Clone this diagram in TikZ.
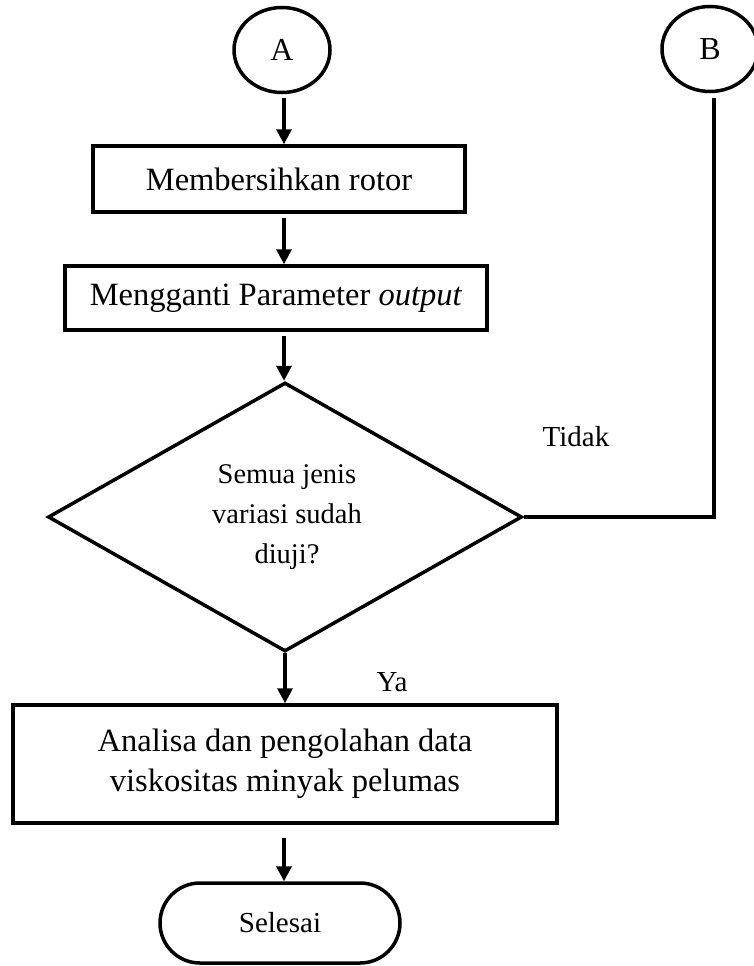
\documentclass[tikz,border=0pt]{standalone}
\usepackage{fontspec}
\setmainfont{Liberation Serif}
\usetikzlibrary{arrows.meta,shapes.geometric}

\begin{document}
\begin{tikzpicture}[x=1pt,y=-1pt,
  outline/.style={draw=black,line width=3.5pt},
  procbox/.style={outline,rectangle,inner sep=0pt,align=center,
    font=\fontsize{32.5}{40}\selectfont},
  connector/.style={outline,ellipse,inner sep=0pt,minimum width=96pt,minimum height=85pt,
    font=\fontsize{32}{38}\selectfont},
  decision/.style={outline,diamond,inner sep=0pt,align=center},
  terminal/.style={outline,rectangle,rounded corners=40pt,inner sep=0pt,
    minimum width=240pt,minimum height=80pt,font=\fontsize{29}{34}\selectfont},
  label/.style={font=\fontsize{29}{34}\selectfont,inner sep=0pt},
  flow/.style={line width=3.5pt,-{Triangle[length=15pt,width=15pt]}},
  plain/.style={line width=3.5pt}]

\useasboundingbox (0,0) rectangle (753,966);

% off-page connectors
\node[connector] (A) at (282,50) {A};
\node[connector] (B) at (710,49) {B};

% process steps
\node[procbox,minimum width=372pt,minimum height=66pt] (clean) at (279,179) {Membersihkan rotor};
\node[procbox,minimum width=422pt,minimum height=64pt] (param) at (276,298) {Mengganti Parameter \textit{output}};
\node[decision,minimum width=474pt,minimum height=269pt] (test) at (285,517) {};
\node[font=\fontsize{28.5}{40}\selectfont,align=center,inner sep=0pt] (testtxt) at (287,517)
  {Semua jenis\\variasi sudah\\diuji?};
\node[procbox,minimum width=544pt,minimum height=118pt] (analysis) at (285,764)
  {Analisa dan pengolahan data\\viskositas minyak pelumas};
\node[terminal] (end) at (280,923) {Selesai};

% branch labels
\node[label] (no) at (576,437) {Tidak};
\node[label] (yes) at (392,682) {Ya};

% main flow
\coordinate (axisA) at (284,0);
\draw[flow,shorten <=4pt] (axisA |- A.south) -- (axisA |- clean.north);
\draw[flow,shorten <=4pt] (axisA |- clean.south) -- (axisA |- param.north);
\draw[flow,shorten <=4pt] (axisA |- param.south) -- (axisA |- test.north);
\draw[flow] (test.south) -- (test.south |- analysis.north);
\draw[flow,shorten <=13pt] (axisA |- analysis.south) -- (axisA |- end.north);

% loop back from B when not all variations are tested
\coordinate (axisB) at (714,0);
\draw[plain,line join=miter] (B.south -| axisB) ++(0,5) -- (axisB |- test.east) -- (test.east);

\end{tikzpicture}
\end{document}
